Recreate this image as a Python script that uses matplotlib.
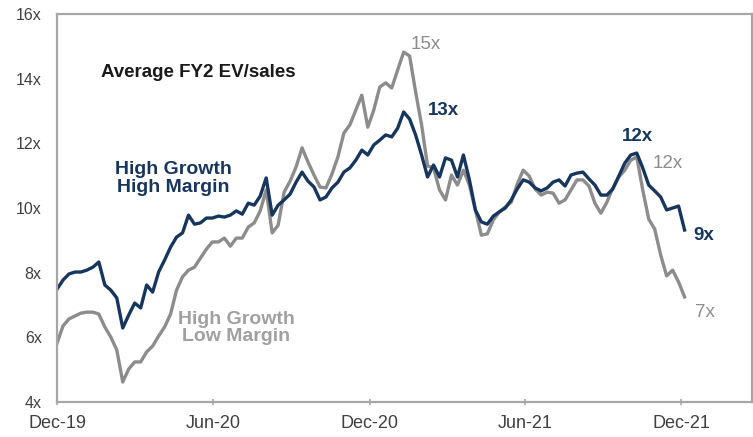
import numpy as np
import pandas as pd
import matplotlib
matplotlib.use('Agg')
import matplotlib.pyplot as plt
import matplotlib.dates as mdates

plt.rcParams['font.family'] = ['Liberation Sans', 'DejaVu Sans']

# weekly average FY2 EV/sales, Dec-19 .. Dec-21
high_margin = [7.49, 7.77, 7.96, 8.02, 8.02, 8.08, 8.17, 8.33, 7.62, 7.46,
               7.22, 6.29, 6.69, 7.06, 6.91, 7.62, 7.40, 8.02, 8.39, 8.79,
               9.10, 9.23, 9.78, 9.50, 9.54, 9.69, 9.69, 9.75, 9.72, 9.78,
               9.91, 9.81, 10.15, 10.09, 10.37, 10.93, 9.78, 10.09, 10.25, 10.43,
               10.80, 11.11, 10.83, 10.65, 10.25, 10.34, 10.62, 10.80, 11.11, 11.24,
               11.48, 11.79, 11.64, 11.95, 12.10, 12.26, 12.20, 12.47, 12.97, 12.75,
               12.26, 11.64, 10.96, 11.33, 10.96, 11.55, 11.48, 10.96, 11.64, 10.87,
               9.94, 9.57, 9.50, 9.75, 9.88, 10.00, 10.25, 10.59, 10.87, 10.80,
               10.62, 10.53, 10.62, 10.80, 10.87, 10.68, 11.02, 11.08, 11.11, 10.90,
               10.71, 10.40, 10.40, 10.59, 10.99, 11.39, 11.64, 11.70, 11.24, 10.71,
               10.53, 10.34, 9.94, 10.00, 10.06, 9.32]
low_margin = [5.82, 6.35, 6.57, 6.66, 6.75, 6.78, 6.78, 6.72, 6.32, 6.01,
              5.61, 4.62, 5.02, 5.24, 5.24, 5.55, 5.73, 6.04, 6.32, 6.72,
              7.46, 7.87, 8.08, 8.17, 8.45, 8.73, 8.95, 8.95, 9.07, 8.82,
              9.07, 9.07, 9.41, 9.54, 9.91, 10.56, 9.23, 9.47, 10.49, 10.83,
              11.27, 11.86, 11.42, 11.02, 10.65, 10.62, 11.05, 11.58, 12.32, 12.57,
              13.03, 13.49, 12.50, 13.03, 13.74, 13.87, 13.71, 14.27, 14.82, 14.70,
              13.59, 12.57, 11.30, 11.24, 10.56, 10.25, 11.02, 10.71, 11.17, 10.71,
              9.94, 9.16, 9.20, 9.63, 9.88, 10.03, 10.18, 10.74, 11.17, 10.99,
              10.59, 10.40, 10.49, 10.46, 10.15, 10.25, 10.56, 10.87, 10.87, 10.68,
              10.15, 9.84, 10.18, 10.62, 10.96, 11.17, 11.48, 11.58, 10.56, 9.66,
              9.35, 8.55, 7.90, 8.08, 7.71, 7.25]
dates = pd.date_range('2019-12-01', periods=len(high_margin), freq='7D')

y_ticks = [4, 6, 8, 10, 12, 14, 16]
x_ticks = pd.to_datetime(['2019-12-01', '2020-06-01', '2020-12-01', '2021-06-01', '2021-12-01'])

navy = '#17365d'
grey = '#8c8c8c'

fig = plt.figure(figsize=(7.53, 4.37), dpi=100)
ax = fig.add_axes([0.0757, 0.080, 0.9230, 0.888])

ax.plot(dates, low_margin, color=grey, lw=2.4, solid_joinstyle='round')
ax.plot(dates, high_margin, color=navy, lw=2.4, solid_joinstyle='round')

ax.set_ylim(4, 16)
ax.set_xlim(pd.Timestamp('2019-12-01'), pd.Timestamp('2022-02-22'))
ax.set_yticks(y_ticks)
ax.set_yticklabels([f'{v}x' for v in y_ticks])
ax.set_xticks(x_ticks)
ax.xaxis.set_major_formatter(mdates.DateFormatter('%b-%y'))

for s in ax.spines.values():
    s.set_color('#a6a6a6')
    s.set_linewidth(1.6)
ax.tick_params(axis='y', length=0, pad=11, labelsize=11.5, labelcolor='#404040')
ax.tick_params(axis='x', length=4, width=1.2, color='#a6a6a6', direction='inout',
               pad=7, labelsize=13, labelcolor='#404040')

ax.text(pd.Timestamp('2020-01-21'), 14.2, 'Average FY2 EV/sales', fontsize=13.5,
        fontweight='bold', color='#1a1a1a', va='center')
ax.text(pd.Timestamp('2020-04-15'), 10.91, 'High Growth\nHigh Margin', fontsize=14,
        fontweight='bold', color=navy, ha='center', va='center', linespacing=1.05)
ax.text(pd.Timestamp('2020-06-28'), 6.29, 'High Growth\nLow Margin', fontsize=14,
        fontweight='bold', color='#a0a0a0', ha='center', va='center', linespacing=1.05)

ax.text(pd.Timestamp('2021-01-18'), 15.07, '15x', fontsize=13.5, color=grey, va='center')
ax.text(pd.Timestamp('2021-02-07'), 13.03, '13x', fontsize=13.5, color=navy,
        fontweight='bold', va='center')
ax.text(pd.Timestamp('2021-09-23'), 12.2, '12x', fontsize=13.5, color=navy,
        fontweight='bold', va='center')
ax.text(pd.Timestamp('2021-10-29'), 11.39, '12x', fontsize=13.5, color=grey, va='center')
ax.text(pd.Timestamp('2021-12-15'), 9.16, '9x', fontsize=13.5, color=navy,
        fontweight='bold', va='center')
ax.text(pd.Timestamp('2021-12-17'), 6.78, '7x', fontsize=13.5, color=grey, va='center')

fig.savefig('out.png', dpi=100)
